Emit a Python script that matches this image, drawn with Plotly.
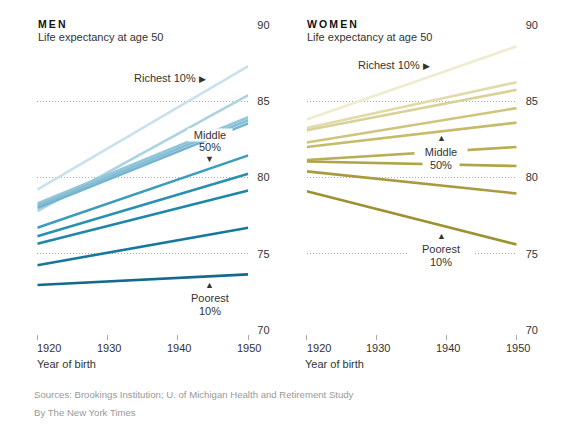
import plotly.graph_objects as go

# ---------------- data ----------------
years = [1920, 1950]
men_deciles = ["Richest 10%", "9th", "8th", "7th", "6th", "5th", "4th", "3rd", "2nd", "Poorest 10%"]
men_start = [79.2, 77.8, 78.3, 78.15, 78.0, 76.7, 76.15, 75.65, 74.25, 72.95]
men_end = [87.3, 85.4, 83.95, 83.75, 83.55, 81.45, 80.25, 79.15, 76.7, 73.65]

women_deciles = ["Richest 10%", "9th", "8th", "7th", "6th", "5th", "4th", "3rd", "Poorest 10%"]
women_start = [83.8, 83.25, 83.1, 82.3, 82.0, 81.15, 81.05, 80.4, 79.1]
women_end = [88.6, 86.25, 85.75, 84.55, 83.6, 82.0, 80.75, 78.95, 75.6]

x_ticks = [1920, 1930, 1940, 1950]
y_ticks = [70, 75, 80, 85, 90]

# ---------------- styles ----------------
W, H = 570, 427
OX, OY = 8, 8  # page body margin offset
FONT = "Liberation Sans, Arial, sans-serif"
TXT = "#333333"
men_colors = ["#c9e1ec", "#add2e2", "#93c5da", "#84bdd5", "#74b4cf",
              "#3b9cbd", "#2a90b3", "#1f86aa", "#16789c", "#15698a"]
women_colors = ["#eeebcf", "#e0dba9", "#d9d298", "#cec47d", "#c5bb69",
                "#b9ad55", "#b0a449", "#a89b3e", "#9d9133"]


def px_x(p):
    return (p - OX) / W


def px_y(p):
    return (H - (p - OY)) / H


fig = go.Figure()

for i, name in enumerate(men_deciles):
    fig.add_trace(go.Scatter(x=years, y=[men_start[i], men_end[i]], mode="lines",
                             name=name, line=dict(color=men_colors[i], width=2.6),
                             xaxis="x", yaxis="y", showlegend=False, hoverinfo="skip"))
for i, name in enumerate(women_deciles):
    fig.add_trace(go.Scatter(x=years, y=[women_start[i], women_end[i]], mode="lines",
                             name=name, line=dict(color=women_colors[i], width=2.6),
                             xaxis="x2", yaxis="y2", showlegend=False, hoverinfo="skip"))

ydom = [px_y(330), px_y(25)]
xaxis_common = dict(range=[1920, 1950], showgrid=False, zeroline=False, showline=False,
                    tickvals=x_ticks, ticks="outside", ticklen=5, tickcolor="#aaaaaa",
                    tickwidth=1, showticklabels=False, anchor="free", position=px_y(334),
                    fixedrange=True, automargin=False)
yaxis_common = dict(range=[70, 90], domain=ydom, side="right", tickvals=y_ticks,
                    showgrid=True, gridcolor="#aaaaaa", griddash="1px,2px", gridwidth=1,
                    zeroline=False, showline=False, ticks="",
                    tickfont=dict(family=FONT, size=11, color=TXT),
                    ticklabelstandoff=8, fixedrange=True, automargin=False)

fig.update_layout(
    width=W, height=H, margin=dict(l=0, r=0, t=0, b=0, autoexpand=False),
    paper_bgcolor="white", plot_bgcolor="white",
    font=dict(family=FONT, size=11, color=TXT),
    xaxis=dict(domain=[px_x(37.3), px_x(248.3)], **xaxis_common),
    xaxis2=dict(domain=[px_x(306.7), px_x(516.7)], **xaxis_common),
    yaxis=dict(anchor="x", **yaxis_common),
    yaxis2=dict(anchor="x2", **yaxis_common),
)

ann = []


def a(**kw):
    base = dict(showarrow=False, font=dict(family=FONT, size=11, color=TXT))
    base.update(kw)
    ann.append(base)


# titles
a(text="<b>M\u2009E\u2009N</b>", xref="paper", yref="paper", x=px_x(37), y=px_y(24),
  xanchor="left", yanchor="middle", font=dict(family=FONT, size=10.5, color="#111"),
  bgcolor="white", width=37, align="left", borderpad=0)
a(text="Life expectancy at age 50", xref="paper", yref="paper", x=px_x(36), y=px_y(37),
  xanchor="left", yanchor="middle")
a(text="<b>W\u2009O\u2009M\u2009E\u2009N</b>", xref="paper", yref="paper", x=px_x(306), y=px_y(24),
  xanchor="left", yanchor="middle", font=dict(family=FONT, size=10.5, color="#111"),
  bgcolor="white", width=60, align="left", borderpad=0)
a(text="Life expectancy at age 50", xref="paper", yref="paper", x=px_x(305), y=px_y(37),
  xanchor="left", yanchor="middle")

# x tick labels
for xa in ["x", "x2"]:
    for t in x_ticks:
        a(text=str(t), xref=xa, yref="paper", x=t, y=px_y(348), yanchor="middle",
          xanchor="left" if t == x_ticks[0] else "center",
          xshift=-2 if t == x_ticks[0] else 1)
a(text="Year of birth", xref="paper", yref="paper", x=px_x(35), y=px_y(364),
  xanchor="left", yanchor="middle")
a(text="Year of birth", xref="paper", yref="paper", x=px_x(303), y=px_y(364),
  xanchor="left", yanchor="middle")

tri = lambda s: "<span style='font-size:9px'>" + s + "</span>"

# men labels
a(text="Richest 10% " + tri("\u25b6"), xref="x", yref="y", x=1944.3, y=86.5,
  xanchor="right", yanchor="middle")
a(text="Middle", xref="x", yref="y", x=1944.5, y=82.8, yanchor="middle",
  bgcolor="white", width=44, borderpad=0)
a(text="50%", xref="x", yref="y", x=1944.5, y=82.0, yanchor="middle")
a(text=tri("\u25bc"), xref="x", yref="y", x=1944.5, y=81.2, yanchor="middle")
a(text=tri("\u25b2"), xref="x", yref="y", x=1944.5, y=72.95, yanchor="middle")
a(text="Poorest", xref="x", yref="y", x=1944.5, y=72.08, yanchor="middle")
a(text="10%", xref="x", yref="y", x=1944.5, y=71.25, yanchor="middle")

# women labels
a(text="Richest 10% " + tri("\u25b6"), xref="x2", yref="y2", x=1937.9, y=87.38,
  xanchor="right", yanchor="middle")
a(text=tri("\u25b2"), xref="x2", yref="y2", x=1939.2, y=82.59, yanchor="middle")
a(text="Middle", xref="x2", yref="y2", x=1939.2, y=81.67, yanchor="middle",
  bgcolor="white", width=52, borderpad=0)
a(text="50%", xref="x2", yref="y2", x=1939.2, y=80.82, yanchor="middle",
  bgcolor="white", width=36, borderpad=0)
a(text=tri("\u25b2"), xref="x2", yref="y2", x=1939.2, y=76.16, yanchor="middle")
a(text="Poorest", xref="x2", yref="y2", x=1939.2, y=75.31, yanchor="middle",
  bgcolor="white", width=64, borderpad=1)
a(text="10%", xref="x2", yref="y2", x=1939.2, y=74.46, yanchor="middle")

# footer
a(text="Sources: Brookings Institution; U. of Michigan Health and Retirement Study",
  xref="paper", yref="paper", x=px_x(32), y=px_y(394), xanchor="left", yanchor="middle",
  font=dict(family=FONT, size=9.6, color="#999999"))
a(text="By The New York Times", xref="paper", yref="paper", x=px_x(32), y=px_y(412),
  xanchor="left", yanchor="middle", font=dict(family=FONT, size=9.6, color="#999999"))

fig.update_layout(annotations=ann)
fig.write_html("out.html")
